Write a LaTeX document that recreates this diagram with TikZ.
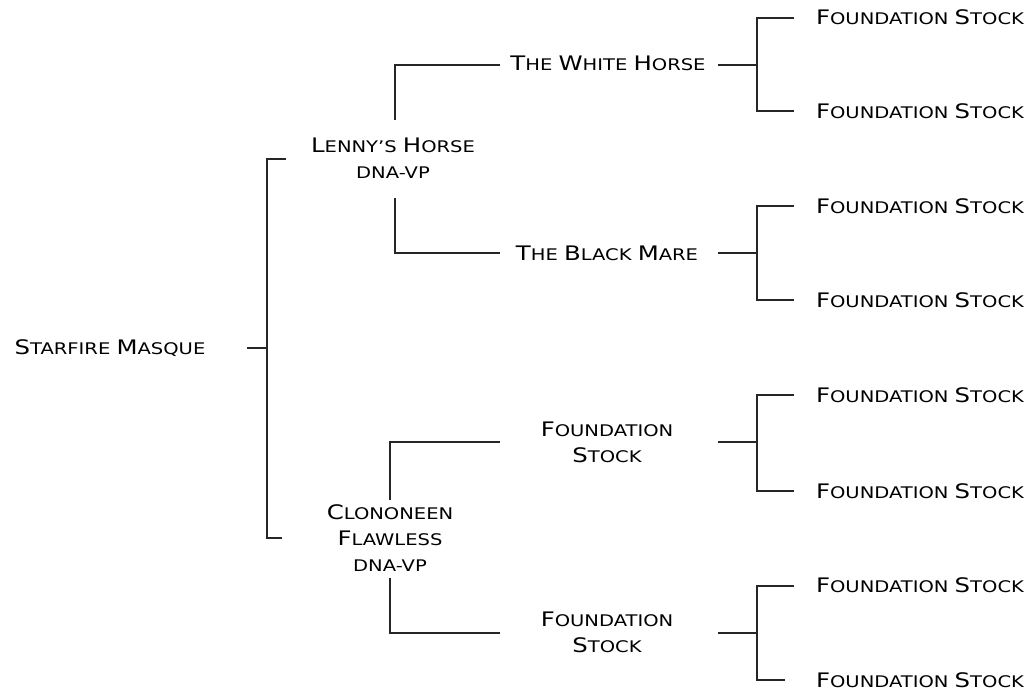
\documentclass[tikz,border=0pt]{standalone}
\usepackage{fontspec}
\setmainfont[FakeStretch=1.22]{DejaVu Sans}
\newcommand\bigc[1]{{\fontsize{20}{26}\selectfont #1}}
\newcommand\smc[1]{{\fontsize{16}{26}\selectfont #1}}
\newcommand\scw[2]{\bigc{#1}\smc{#2}}
\begin{document}
\begin{tikzpicture}[x=1pt,y=-1pt,
  lbl/.style={inner sep=0pt, align=center, font=\fontsize{16}{26}\selectfont},
  conn/.style={line width=1.4pt, draw=black!85, line join=miter}]
\useasboundingbox (0,0) rectangle (1031,694);
% text nodes
\node[lbl] (root) at (110,348) {\scw{S}{TARFIRE} \scw{M}{ASQUE}};
\node[lbl] (lenny) at (393,158) {\scw{L}{ENNY'S} \scw{H}{ORSE}\\\smc{DNA-VP}};
\node[lbl] (clon) at (390,538) {\scw{C}{LONONEEN}\\\scw{F}{LAWLESS}\\\smc{DNA-VP}};
\node[lbl] (white) at (608,63) {\scw{T}{HE} \scw{W}{HITE} \scw{H}{ORSE}};
\node[lbl] (black) at (607,253) {\scw{T}{HE} \scw{B}{LACK} \scw{M}{ARE}};
\node[lbl] (fsa) at (607,442) {\scw{F}{OUNDATION}\\\scw{S}{TOCK}};
\node[lbl] (fsb) at (607,632) {\scw{F}{OUNDATION}\\\scw{S}{TOCK}};
\foreach \n/\y in {1/17,2/111,3/206,4/300,5/395,6/491,7/585,8/680}
  \node[lbl] (leaf\n) at (920,\y) {\scw{F}{OUNDATION} \scw{S}{TOCK}};
% junction coordinates
\coordinate (r0) at (247,348); \coordinate (r1) at (267,348);
\coordinate (rt) at (286,159); \coordinate (rb) at (282,538);
\coordinate (la) at (395,120); \coordinate (lat) at (500,65);
\coordinate (lb) at (395,198); \coordinate (lbt) at (500,253);
\coordinate (ca) at (390,500); \coordinate (cat) at (500,442);
\coordinate (cb) at (390,578); \coordinate (cbt) at (500,633);
\foreach \k/\y/\t/\b/\e in {w/65/18/111/794, k/253/206/300/794, a/442/395/491/794, b/633/586/680/785}{
  \coordinate (\k0) at (718,\y); \coordinate (\k1) at (757,\y);
  \coordinate (\k t) at (794,\t); \coordinate (\k b) at (\e,\b);
  \draw[conn] (\k0) -- (\k1);
  \draw[conn] (\k t) -| (\k1) |- (\k b);
}
\draw[conn] (r0) -- (r1);
\draw[conn] (rt) -| (r1) |- (rb);
\draw[conn] (la) |- (lat);
\draw[conn] (lb) |- (lbt);
\draw[conn] (ca) |- (cat);
\draw[conn] (cb) |- (cbt);
\end{tikzpicture}
\end{document}
